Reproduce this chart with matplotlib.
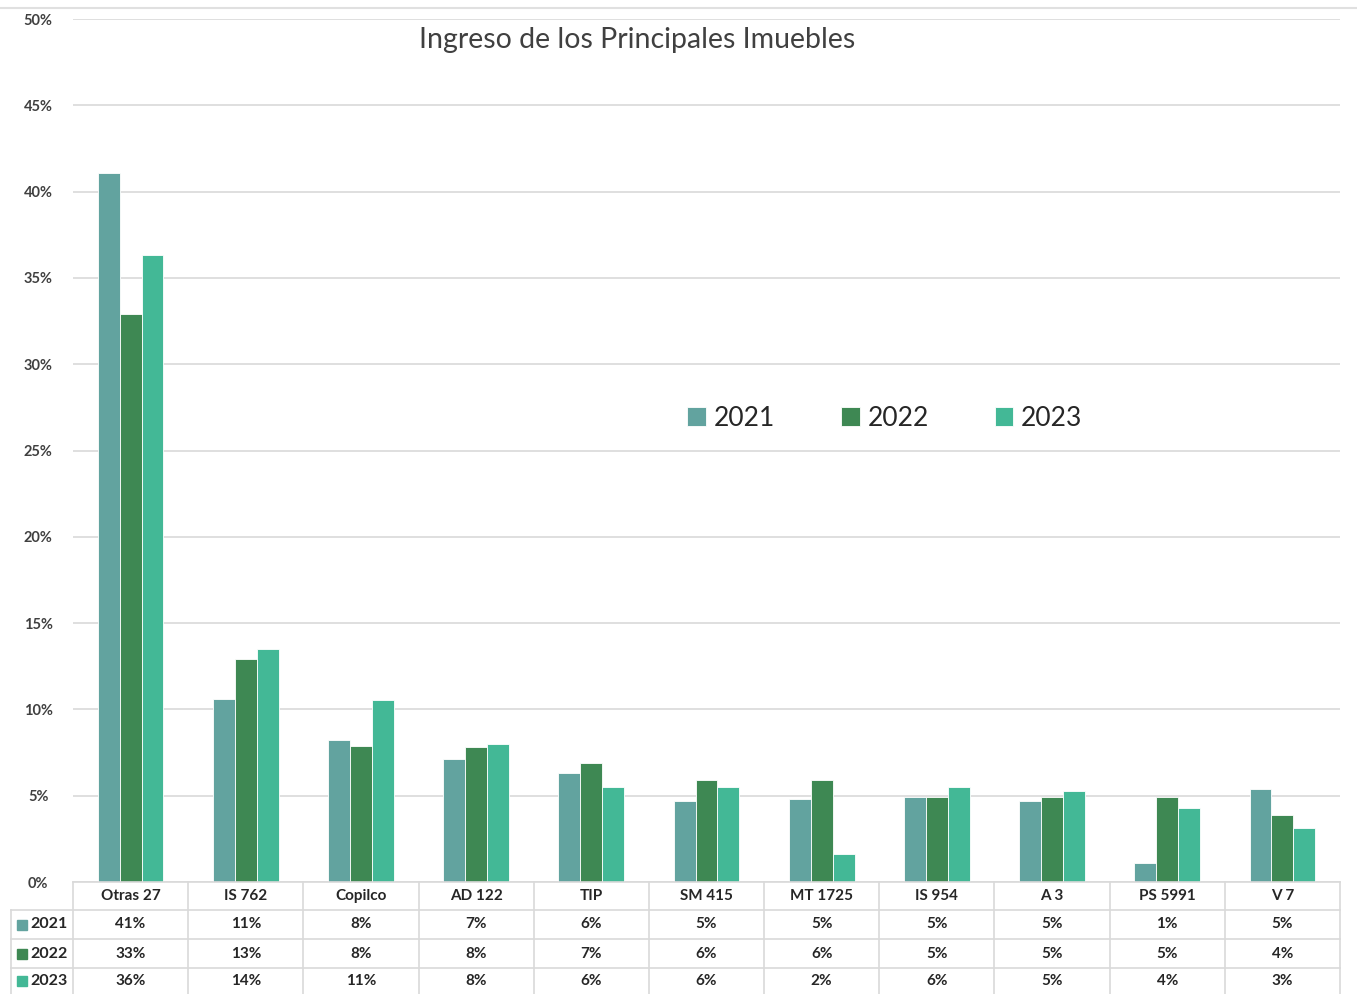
import matplotlib
matplotlib.use("Agg")
import matplotlib.pyplot as plt
from matplotlib.patches import Rectangle
import numpy as np

categories = ["Otras 27", "IS 762", "Copilco", "AD 122", "TIP", "SM 415",
              "MT 1725", "IS 954", "A 3", "PS 5991", "V 7"]
years = ["2021", "2022", "2023"]
v2021 = [41.1, 10.6, 8.2, 7.1, 6.3, 4.7, 4.8, 4.9, 4.7, 1.1, 5.4]
v2022 = [32.9, 12.9, 7.9, 7.8, 6.9, 5.9, 5.9, 4.9, 4.9, 4.9, 3.9]
v2023 = [36.3, 13.5, 10.55, 8.0, 5.5, 5.5, 1.6, 5.5, 5.3, 4.3, 3.1]
yticks = [0, 5, 10, 15, 20, 25, 30, 35, 40, 45, 50]
colors = ["#62A39F", "#3E8853", "#43B896"]
series = [v2021, v2022, v2023]

W, H = 1357, 994
fig = plt.figure(figsize=(W / 100, H / 100), dpi=100)
fam = ["Lato", "DejaVu Sans"]
plt.rcParams["font.family"] = fam

x0, x1 = 73, 1340
y_top, y_bot = 19, 882
ax = fig.add_axes([x0 / W, 1 - y_bot / H, (x1 - x0) / W, (y_bot - y_top) / H])
n = len(categories)
x = np.arange(n)
bw = 0.19
for i, (vals, c) in enumerate(zip(series, colors)):
    ax.bar(x + (i - 1) * bw, vals, width=bw, color=c, edgecolor="white",
           linewidth=0.6, zorder=3, label=years[i])
ax.set_xlim(-0.5, n - 0.5)
ax.set_ylim(0, 50)
ax.set_yticks(yticks)
ax.set_yticklabels([f"{t}%" for t in yticks], fontsize=10.5, fontweight="bold",
                   color="#404040")
ax.tick_params(axis="x", length=0, labelbottom=False)
ax.tick_params(axis="y", length=0, pad=25)
for t in ax.get_yticklabels():
    t.set_horizontalalignment("center")
ax.grid(axis="y", color="#D9D9D9", linewidth=1.2, zorder=0)
for s in ax.spines.values():
    s.set_visible(False)

# top border line of chart
fig.add_artist(plt.Line2D([0, 1], [1 - 8 / H, 1 - 8 / H], color="#E0E0E0",
                          linewidth=1.5, transform=fig.transFigure))

fig.text(637 / W, 1 - 40 / H, "Ingreso de los Principales Imuebles",
         ha="center", va="center", fontsize=20.5, color="#404040")

leg = ax.legend(loc="center", bbox_to_anchor=((885 - x0) / (x1 - x0), 1 - (418 - y_top) / (y_bot - y_top)),
                ncol=3, frameon=False, fontsize=19, handlelength=0.7,
                handleheight=0.7, handletextpad=0.3, columnspacing=2.5)
for t in leg.get_texts():
    t.set_color("#262626")

# data table
row_edges = [882, 910, 939, 968, 994]
col_w = (x1 - x0) / n
lc = "#D9D9D9"
def fy(py):
    return 1 - py / H
def fx(px):
    return px / W
fig.add_artist(plt.Line2D([fx(x0), fx(x1)], [fy(882), fy(882)], color=lc, lw=1.2))
for py in row_edges[1:4]:
    fig.add_artist(plt.Line2D([fx(11), fx(x1)], [fy(py), fy(py)], color=lc, lw=1.2))
for j in range(n + 1):
    px = x0 + j * col_w
    fig.add_artist(plt.Line2D([fx(px), fx(px)], [fy(882), fy(994)], color=lc, lw=1.2))
fig.add_artist(plt.Line2D([fx(11), fx(11)], [fy(910), fy(994)], color=lc, lw=1.2))

tc = "#262626"
for j, cat in enumerate(categories):
    cx = x0 + (j + 0.5) * col_w
    fig.text(fx(cx), fy((row_edges[0] + row_edges[1]) / 2), cat, ha="center",
             va="center", fontsize=11, fontweight="bold", color=tc)
    for r, vals in enumerate(series):
        cy = (row_edges[r + 1] + row_edges[r + 2]) / 2
        fig.text(fx(cx), fy(cy), f"{int(np.floor(vals[j] + 0.5))}%", ha="center",
                 va="center", fontsize=11, fontweight="bold", color=tc)
for r, (yr, c) in enumerate(zip(years, colors)):
    cy = (row_edges[r + 1] + row_edges[r + 2]) / 2
    fig.add_artist(Rectangle((fx(17), fy(cy + 5)), 10 / W, 10 / H, color=c,
                             transform=fig.transFigure))
    fig.text(fx(30), fy(cy), yr, ha="left", va="center", fontsize=11.5,
             fontweight="bold", color=tc)

fig.savefig("out.png", dpi=100, facecolor="white")
